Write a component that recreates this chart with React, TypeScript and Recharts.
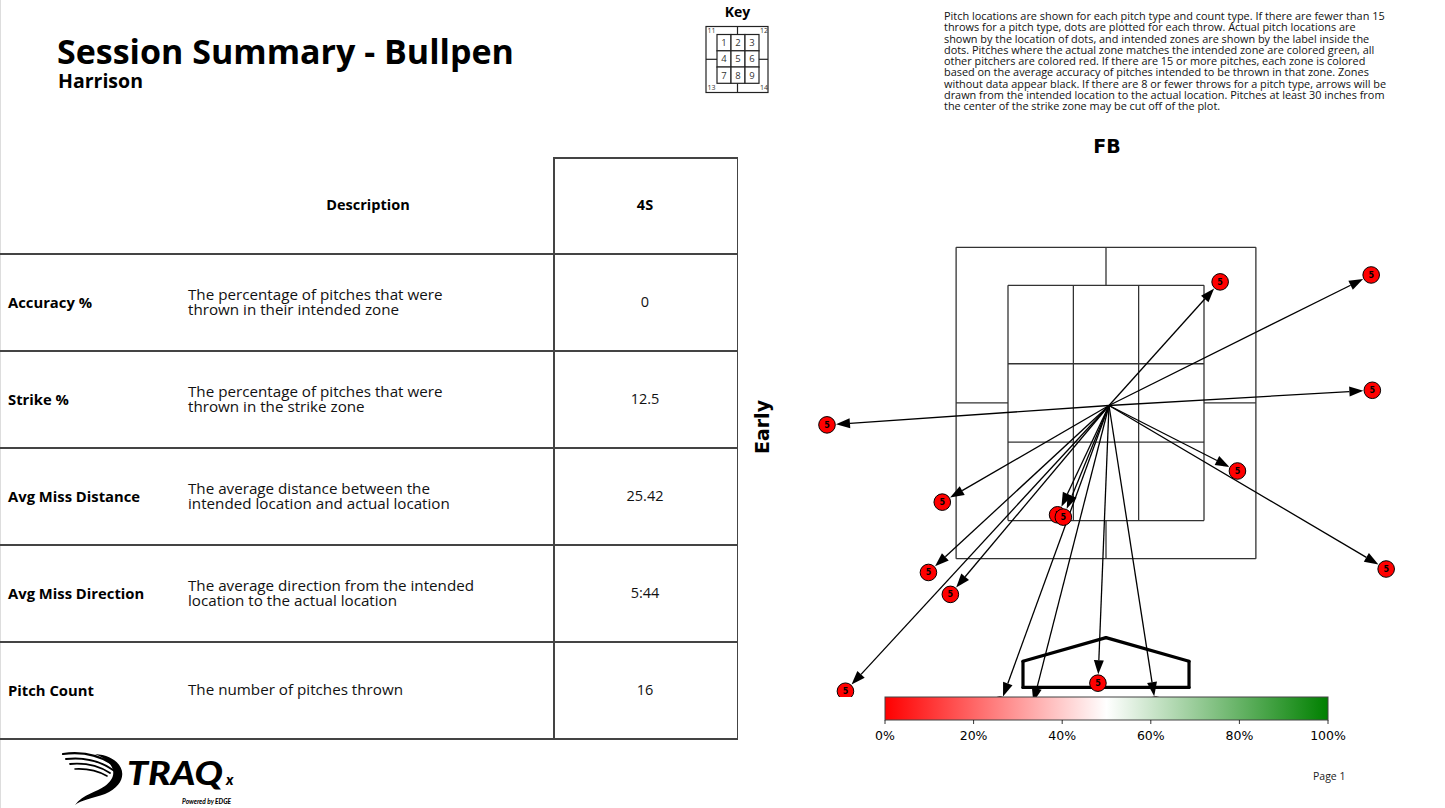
import React from 'react';
import { ScatterChart, Scatter, XAxis, YAxis, ReferenceLine } from 'recharts';

// ---------- data ----------
const chartTitle = 'FB';
const countType = 'Early';
const pitchType = '4S';

// actual pitch locations (inches from zone centre) and intended zone
const actualX = [9.9, 23.0, 23.1, -24.2, 11.4, -14.2, -4.2, -3.7, -15.4, -13.5, 24.3, -22.6, -0.7, -9.2, 4.3, -6.5];
const actualY = [10.5, 11.1, 1.1, -1.9, -5.9, -8.6, -9.7, -9.9, -14.7, -16.6, -14.4, -25.0, -24.3, -26.2, -26.2, -26.7];
const intendedZone = ['5', '5', '5', '5', '5', '5', '5', '5', '5', '5', '5', '5', '5', '5', '5', '5'];
const intendedX = 0.26;
const intendedY = -0.22;

// zone geometry (inches)
const zoneSegments: number[][] = [
  // outer box
  [-13, 13.5, 13, 13.5], [-13, -13.5, 13, -13.5], [-13, -13.5, -13, 13.5], [13, -13.5, 13, 13.5],
  // inner box
  [-8.5, 10.2, 8.5, 10.2], [-8.5, -10.2, 8.5, -10.2], [-8.5, -10.2, -8.5, 10.2], [8.5, -10.2, 8.5, 10.2],
  // inner grid
  [-2.83, -10.2, -2.83, 10.2], [2.83, -10.2, 2.83, 10.2], [-8.5, 3.4, 8.5, 3.4], [-8.5, -3.4, 8.5, -3.4],
  // outer split lines
  [0, 10.2, 0, 13.5], [0, -10.2, 0, -13.5], [-13, 0, -8.5, 0], [8.5, 0, 13, 0],
];
const plateX = [-7.2, 0, 7.2, 7.2, -7.2, -7.2];
const plateY = [-22.4, -20.35, -22.4, -24.67, -24.67, -22.4];

// table
const rowLabels = ['Accuracy %', 'Strike %', 'Avg Miss Distance', 'Avg Miss Direction', 'Pitch Count'];
const rowDescriptions = [
  ['The percentage of pitches that were', 'thrown in their intended zone'],
  ['The percentage of pitches that were', 'thrown in the strike zone'],
  ['The average distance between the', 'intended location and actual location'],
  ['The average direction from the intended', 'location to the actual location'],
  ['The number of pitches thrown'],
];
const rowValues = ['0', '12.5', '25.42', '5:44', '16'];

const colorbarTicks = ['0%', '20%', '40%', '60%', '80%', '100%'];

const noteLines = [
  'Pitch locations are shown for each pitch type and count type. If there are fewer than 15',
  'throws for a pitch type, dots are plotted for each throw. Actual pitch locations are',
  'shown by the location of dots, and intended zones are shown by the label inside the',
  'dots. Pitches where the actual zone matches the intended zone are colored green, all',
  'other pitchers are colored red. If there are 15 or more pitches, each zone is colored',
  'based on the average accuracy of pitches intended to be thrown in that zone. Zones',
  'without data appear black. If there are 8 or fewer throws for a pitch type, arrows will be',
  'drawn from the intended location to the actual location. Pitches at least 30 inches from',
  'the center of the strike zone may be cut off of the plot.',
];

const pitches = actualX.map((x, i) => ({ x, y: actualY[i], zone: intendedZone[i] }));

const FONT = '"Open Sans", sans-serif';
const MPL = '"DejaVu Sans", sans-serif';
const PLOT_W = 588;
const PLOT_H = 537;

const ArrowShape = (props: any) => {
  const x1 = Number(props.x1), y1 = Number(props.y1), x2 = Number(props.x2), y2 = Number(props.y2);
  const dx = x2 - x1, dy = y2 - y1;
  const len = Math.hypot(dx, dy) || 1;
  const ux = dx / len, uy = dy / len;
  const tipX = x2 - ux * 9, tipY = y2 - uy * 9;
  const bx = tipX - ux * 14, by = tipY - uy * 14;
  const px = -uy, py = ux;
  return (
    <g clipPath={props.clipPath}>
      <line x1={x1} y1={y1} x2={bx} y2={by} stroke="#000" strokeWidth={1.3} />
      <polygon points={`${tipX},${tipY} ${bx + px * 5},${by + py * 5} ${bx - px * 5},${by - py * 5}`} fill="#000" />
    </g>
  );
};

const PitchDot = (props: any) => {
  const { cx, cy, payload } = props;
  const labelVisible = cy + 3 <= PLOT_H;
  return (
    <g>
      <circle cx={cx} cy={cy} r={8.3} fill="#ff0000" stroke="#000" strokeWidth={1} />
      {labelVisible && (
        <text x={cx} y={cy + 3} textAnchor="middle" fontSize={8} fontWeight="bold" fontFamily={MPL} fill="#000">
          {payload.zone}
        </text>
      )}
    </g>
  );
};

const Logo = () => (
  <svg width={200} height={66} style={{ position: 'absolute', left: 55, top: 742 }}>
    <g fill="none" stroke="#000" strokeLinecap="round">
      <path d="M8,12 Q38,8 60,24" strokeWidth={2.2} />
      <path d="M11,17 Q38,14 58,28" strokeWidth={2} />
      <path d="M15,22 Q38,20 55,31" strokeWidth={1.8} />
      <path d="M20,27 Q38,26 52,34" strokeWidth={1.6} />
    </g>
    <path d="M40,12 C70,14 78,40 50,52 C38,56 26,58 20,63 C28,52 42,50 50,44 C64,34 60,20 40,12 Z" fill="#000" />
    <text x={72} y={43} textLength={96} lengthAdjust="spacingAndGlyphs" fontFamily="Lato, sans-serif" fontWeight={900} fontStyle="italic" fontSize={32} fill="#000">TRAQ</text>
    <text x={171} y={43} fontFamily="Lato, sans-serif" fontWeight={900} fontStyle="italic" fontSize={15} fill="#000">x</text>
    <text x={127} y={62} fontFamily="Lato, sans-serif" fontWeight={700} fontStyle="italic" fontSize={6.5} fill="#000">Powered by <tspan fontWeight={900}>EDGE</tspan></text>
  </svg>
);

const Key = () => {
  const cellX = [717, 731, 745];
  const cellY = [34.5, 50.8, 67];
  const stroke = '#222';
  return (
    <svg width={90} height={100} style={{ position: 'absolute', left: 695, top: 0 }}>
      <g transform="translate(-695,0)">
        <text x={737.5} y={17} textAnchor="middle" fontFamily={FONT} fontWeight={700} fontSize={14}>Key</text>
        <rect x={706} y={26.5} width={62} height={66} fill="none" stroke={stroke} strokeWidth={1.2} />
        <line x1={737.5} y1={26.5} x2={737.5} y2={34.5} stroke={stroke} strokeWidth={1.2} />
        <line x1={737.5} y1={83.3} x2={737.5} y2={92.5} stroke={stroke} strokeWidth={1.2} />
        <line x1={706} y1={59.3} x2={717} y2={59.3} stroke={stroke} strokeWidth={1.2} />
        <line x1={759} y1={59.3} x2={768} y2={59.3} stroke={stroke} strokeWidth={1.2} />
        {cellY.map((cy, r) =>
          cellX.map((cx, c) => (
            <g key={`${r}-${c}`}>
              <rect x={cx} y={cy} width={14} height={16.3} fill="#fff" stroke={stroke} strokeWidth={1.2} />
              <text x={cx + 7} y={cy + 11.5} textAnchor="middle" fontFamily={FONT} fontSize={9.5} fill="#333">{r * 3 + c + 1}</text>
            </g>
          ))
        )}
        <text x={711.5} y={33} textAnchor="middle" fontFamily={FONT} fontSize={7} fill="#333">11</text>
        <text x={764} y={33} textAnchor="middle" fontFamily={FONT} fontSize={7} fill="#333">12</text>
        <text x={711.5} y={90} textAnchor="middle" fontFamily={FONT} fontSize={7} fill="#333">13</text>
        <text x={764} y={90} textAnchor="middle" fontFamily={FONT} fontSize={7} fill="#333">14</text>
      </g>
    </svg>
  );
};

const Colorbar = () => {
  const w = 443;
  return (
    <svg width={w + 40} height={50} style={{ position: 'absolute', left: 865, top: 696 }}>
      <defs>
        <linearGradient id="rwg" x1="0" x2="1" y1="0" y2="0">
          <stop offset="0" stopColor="#ff0000" />
          <stop offset="0.5" stopColor="#ffffff" />
          <stop offset="1" stopColor="#008000" />
        </linearGradient>
      </defs>
      <rect x={20} y={1} width={w} height={23} fill="url(#rwg)" stroke="#444" strokeWidth={1} />
      {colorbarTicks.map((t, i) => {
        const x = 20 + (w * i) / (colorbarTicks.length - 1);
        return (
          <g key={t}>
            <line x1={x} y1={24} x2={x} y2={28} stroke="#000" strokeWidth={0.8} />
            <text x={x} y={44} textAnchor="middle" fontFamily={MPL} fontSize={12.5} fill="#000">{t}</text>
          </g>
        );
      })}
    </svg>
  );
};

export default function App() {
  const rowTops = [253, 350, 447, 544, 641];
  const rowH = 97;
  const lineColor = '#444';
  return (
    <div style={{ position: 'absolute', left: 0, top: 0, width: 1445, height: 808, background: '#fff', overflow: 'hidden', fontFamily: FONT, color: '#000' }}>
      <div style={{ position: 'absolute', left: 0, top: 0, width: 1, height: 808, background: '#ddd' }} />
      {/* titles */}
      <div style={{ position: 'absolute', left: 57, top: 34, fontSize: 34, fontWeight: 700, lineHeight: '34px', whiteSpace: 'nowrap' }}>
        Session Summary - Bullpen
      </div>
      <div style={{ position: 'absolute', left: 58, top: 71, fontSize: 19.5, fontWeight: 700, lineHeight: '20px' }}>Harrison</div>

      <Key />

      <div style={{ position: 'absolute', left: 944, top: 10, fontSize: 10.9, lineHeight: '11.25px', whiteSpace: 'nowrap', color: '#111' }}>
        {noteLines.map((l, i) => (
          <div key={i}>{l}</div>
        ))}
      </div>

      {/* table */}
      <div style={{ position: 'absolute', left: 553, top: 157, width: 184, height: 1.5, background: lineColor }} />
      <div style={{ position: 'absolute', left: 553, top: 157, width: 1.5, height: 582, background: lineColor }} />
      <div style={{ position: 'absolute', left: 736.5, top: 157, width: 1.5, height: 582, background: lineColor }} />
      {[253, 350, 447, 544, 641, 738].map((y) => (
        <div key={y} style={{ position: 'absolute', left: 0, top: y, width: 738, height: 1.5, background: lineColor }} />
      ))}
      <div style={{ position: 'absolute', left: 188, width: 360, top: 195, textAlign: 'center', fontSize: 14.5, fontWeight: 700, lineHeight: '20px' }}>Description</div>
      <div style={{ position: 'absolute', left: 553, width: 184, top: 195, textAlign: 'center', fontSize: 14.5, fontWeight: 700, lineHeight: '20px' }}>{pitchType}</div>
      {rowLabels.map((lab, i) => {
        const c = rowTops[i] + rowH / 2 + 0.5;
        const desc = rowDescriptions[i];
        return (
          <React.Fragment key={lab}>
            <div style={{ position: 'absolute', left: 8, top: c - 10, fontSize: 14.8, fontWeight: 700, lineHeight: '20px', whiteSpace: 'nowrap' }}>{lab}</div>
            <div style={{ position: 'absolute', left: 188, top: c - (desc.length * 15) / 2 - 0.5, fontSize: 15.2, lineHeight: '15px', whiteSpace: 'nowrap', color: '#111' }}>
              {desc.map((d, j) => (
                <div key={j}>{d}</div>
              ))}
            </div>
            <div style={{ position: 'absolute', left: 553, width: 184, top: c - 10, textAlign: 'center', fontSize: 14.5, lineHeight: '20px', color: '#111' }}>{rowValues[i]}</div>
          </React.Fragment>
        );
      })}

      {/* plot titles */}
      <div style={{ position: 'absolute', left: 1007, width: 200, top: 134, textAlign: 'center', fontFamily: MPL, fontWeight: 700, fontSize: 19, lineHeight: '24px' }}>{chartTitle}</div>
      <div style={{ position: 'absolute', left: 722, width: 80, top: 415, textAlign: 'center', fontFamily: MPL, fontWeight: 700, fontSize: 19, lineHeight: '24px', transform: 'rotate(-90deg)' }}>{countType}</div>

      <div style={{ position: 'absolute', left: 812, top: 160 }}>
        <ScatterChart width={PLOT_W} height={PLOT_H} margin={{ top: 0, right: 0, bottom: 0, left: 0 }}>
          <XAxis type="number" dataKey="x" domain={[-25.5, 25.5]} hide allowDataOverflow />
          <YAxis type="number" dataKey="y" domain={[-25.5, 21.07]} hide allowDataOverflow />
          {zoneSegments.map((s, i) => (
            <ReferenceLine key={`z${i}`} segment={[{ x: s[0], y: s[1] }, { x: s[2], y: s[3] }]} stroke="#333" strokeWidth={1.3} ifOverflow="visible" />
          ))}
          {plateX.slice(0, -1).map((x, i) => (
            <ReferenceLine key={`p${i}`} segment={[{ x, y: plateY[i] }, { x: plateX[i + 1], y: plateY[i + 1] }]} stroke="#000" strokeWidth={3.2} strokeLinecap="round" ifOverflow="visible" />
          ))}
          {pitches.map((p, i) => (
            <ReferenceLine key={`a${i}`} segment={[{ x: intendedX, y: intendedY }, { x: p.x, y: p.y }]} ifOverflow="hidden" shape={ArrowShape} />
          ))}
          <Scatter data={pitches} shape={PitchDot} isAnimationActive={false} />
        </ScatterChart>
      </div>

      <Colorbar />
      <Logo />
      <div style={{ position: 'absolute', left: 1313, top: 769, fontSize: 10.5, lineHeight: '14px', color: '#222' }}>Page 1</div>
    </div>
  );
}
